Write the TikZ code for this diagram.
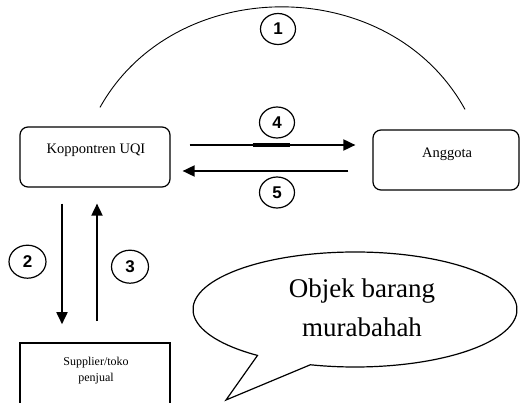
\documentclass[tikz,border=0pt]{standalone}
\usepackage{fontspec}
\setmainfont{Liberation Serif}
\newfontfamily\numfont{Liberation Sans}
\usetikzlibrary{arrows.meta,calc,shapes.geometric}
\begin{document}
\begin{tikzpicture}[x=1pt,y=-1pt,
  box/.style={draw, line width=1.2pt, rounded corners=8pt, minimum width=150pt, minimum height=60pt, inner sep=0pt},
  txt/.style={font=\fontsize{14.5}{18}\selectfont, inner sep=0pt},
  num/.style={draw, ellipse, line width=1.2pt, minimum width=35pt, minimum height=31pt, inner sep=0pt, font=\numfont\bfseries\fontsize{17}{17}\selectfont},
  arr/.style={line width=1.8pt, -{Triangle[length=12pt,width=11pt]}}]
\useasboundingbox (0,0) rectangle (520,403);
\clip (0,0) rectangle (520,403);
% boxes
\node[box] (kop) at (95,157) {};
\node[txt] (koptxt) at (96,150) {Koppontren UQI};
\node[box, minimum width=146pt] (ang) at (446,160) {};
\node[txt] (angtxt) at (447,154) {Anggota};
\node[draw, line width=1.6pt, minimum width=150pt, minimum height=80pt, inner sep=0pt] (sup) at (95,383) {};
\node[font=\fontsize{12}{16}\selectfont, align=center, inner sep=0pt] (suptxt) at (96,371) {Supplier/toko\\penjual};
% arc 1
\draw[line width=0.9pt] ($(kop.north)+(5,-19)$) .. controls (175,-27) and (390,-27) .. ($(ang.north)+(19,-20)$);
% arrows 4 and 5
\draw[arr] ($(kop.east)+(19,-12)$) -- ($(ang.west)+(-17,-15)$);
\draw[line width=3.2pt] ($(kop.east)+(82,-12)$) -- ($(kop.east)+(119,-12)$);
\draw[arr] ($(ang.west)+(-24,11)$) -- ($(kop.east)+(12,14)$);
% arrows 2 and 3
\draw[arr] ($(kop.south)+(-33,16)$) -- ($(sup.north)+(-33,-18)$);
\draw[arr] ($(sup.north)+(2,-21)$) -- ($(kop.south)+(2,16)$);
% numbers
\node[num] (n1) at (278,29) {1};
\node[num] (n4) at (277,122.5) {4};
\node[num] (n5) at (277,192.5) {5};
\node[num, minimum width=37pt, minimum height=33pt] (n2) at (27.5,261.7) {2};
\node[num, minimum width=37pt, minimum height=33pt] (n3) at (130,266.7) {3};
% speech bubble
\coordinate (bc) at (355,309.5);
\coordinate (tip) at (226,400);
\draw[line width=1.2pt] ($(bc)+(127:162 and 57.5)$) arc[start angle=127, end angle=466, x radius=162, y radius=57.5] -- (tip) -- cycle;
\node[font=\fontsize{27}{39}\selectfont, align=center, inner sep=0pt] (btxt) at (362,307.5) {Objek barang\\murabahah};
\end{tikzpicture}
\end{document}
